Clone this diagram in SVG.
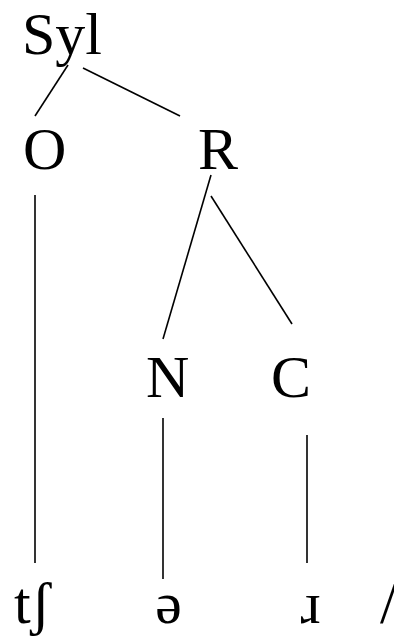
<svg xmlns="http://www.w3.org/2000/svg" width="394" height="639" viewBox="0 0 394 639">
<style>
.t{font-family:"Liberation Serif","Times New Roman",Times,serif;font-size:60px;fill:#000}
.e line{stroke:#000;stroke-width:1.6;stroke-linecap:butt}
</style>
<rect width="394" height="639" fill="#fff"/>
<g id="syl"><text class="t" x="22" y="54">Syl</text></g>
<g id="O"><text class="t" x="23" y="169">O</text></g>
<g id="R"><text class="t" x="198" y="169">R</text></g>
<g id="N"><text class="t" x="146" y="397">N</text></g>
<g id="C"><text class="t" x="271" y="397">C</text></g>
<g id="tsh"><text class="t" x="14" y="623">tʃ</text></g>
<g id="schwa"><text class="t" x="168.5" y="623" text-anchor="middle">ə</text></g>
<g id="r"><text class="t" x="310.5" y="623" text-anchor="middle">ɹ</text></g>
<g id="slash"><text class="t" x="380" y="623">/</text></g>
<g class="e" id="edges">
<line x1="68" y1="65" x2="35" y2="116"/>
<line x1="83" y1="68" x2="180" y2="116"/>
<line x1="211" y1="175" x2="163" y2="339"/>
<line x1="211" y1="196" x2="292" y2="324"/>
<line x1="35" y1="195" x2="35" y2="563"/>
<line x1="163" y1="418" x2="163" y2="579"/>
<line x1="307" y1="435" x2="307" y2="563"/>
</g>
</svg>
